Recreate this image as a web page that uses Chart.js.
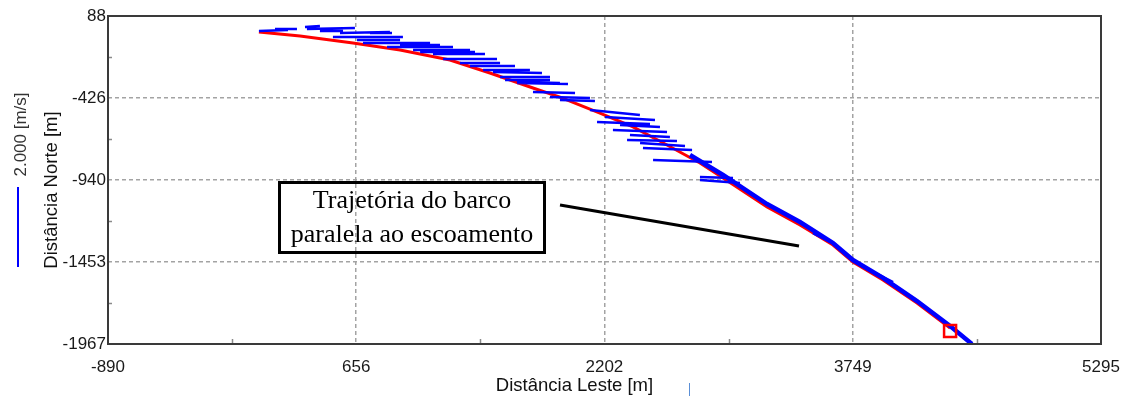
<!DOCTYPE html>
<html>
<head>
<meta charset="utf-8">
<script src="https://cdn.jsdelivr.net/npm/chart.js@4"></script>
<style>
  html, body { margin: 0; padding: 0; background: #ffffff; }
  #wrap { width: 1125px; height: 396px; position: relative; }
</style>
</head>
<body>
<div id="wrap"><canvas id="c" width="1125" height="396"></canvas></div>
<script>
// ---- axis ticks ----
const xTickValues = [-890, 656, 2202, 3749, 5295];
const yTickValues = [-1967, -1453, -940, -426, 88];

// ---- boat trajectory (red), metres ----
const trackX = [50, 306, 636, 929, 1240, 1489, 1757, 1925, 2174, 2380, 2592, 2797, 2941, 3215, 3420, 3626, 3750, 3937, 4149, 4355];
const trackY = [-12, -37, -81, -125, -188, -269, -363, -420, -520, -607, -720, -833, -927, -1109, -1221, -1347, -1453, -1566, -1710, -1867];

// ---- velocity vectors (blue), start and end in metres ----
const vecX0 = [50, 150, 337, 349, 430, 555, 742, 511, 661, 698, 848, 1010, 1134, 1197, 1302, 1446, 1508, 1552, 1657, 1657, 1757, 1863, 1925, 2156, 2255, 2343, 2442, 2505, 2797, 929, 1054, 1365, 1583, 2112, 2206, 2299, 2361, 2424, 3501, 3794, 2797];
const vecY0 = [-6, 7, 19, 7, -6, -19, -19, -44, -62, -81, -106, -125, -150, -181, -206, -250, -263, -294, -326, -332, -388, -420, -438, -576, -626, -689, -739, -814, -921, -94, -138, -225, -313, -501, -545, -595, -658, -708, -1272, -1472, -939];
const vecX1 = [231, 287, 430, 648, 574, 866, 879, 947, 929, 1116, 1259, 1365, 1458, 1533, 1552, 1738, 1813, 1863, 1925, 1975, 2019, 2112, 2143, 2486, 2592, 2654, 2748, 2872, 3003, 1178, 1396, 1645, 1863, 2423, 2517, 2548, 2610, 2704, 3607, 4000, 3046];
const vecY1 = [0, 7, 25, 13, -6, -13, -19, -44, -62, -81, -106, -125, -150, -181, -206, -250, -269, -294, -332, -338, -394, -426, -444, -588, -638, -695, -751, -826, -927, -94, -138, -225, -313, -532, -564, -607, -670, -726, -1328, -1579, -958];

// ---- vectors overlapping along the lower track (blue) ----
const alongX = [2735, 2941, 3215, 3420, 3626, 3750, 3937, 4149, 4355, 4491];
const alongY = [-783, -908, -1090, -1203, -1334, -1441, -1553, -1698, -1854, -1967];

// ---- marker (red square) ----
const markerX = [4355];
const markerY = [-1885];

// ---- texts ----
const xTitle = 'Distância Leste [m]';
const yTitle = 'Distância Norte [m]';
const scaleLabel = '2.000 [m/s]';
const noteLines = ['Trajetória do barco', 'paralela ao escoamento'];

// build datasets
const trackData = trackX.map((v, i) => ({x: v, y: trackY[i]}));
const vecData = [];
vecX0.forEach((v, i) => {
  vecData.push({x: v, y: vecY0[i]});
  vecData.push({x: vecX1[i], y: vecY1[i]});
  vecData.push({x: vecX1[i], y: null});
});
const alongData = alongX.map((v, i) => ({x: v, y: alongY[i]}));
const markerData = markerX.map((v, i) => ({x: v, y: markerY[i]}));

const SANS = "'Liberation Sans', Arial, sans-serif";
const SERIF = "'Liberation Serif', 'Times New Roman', serif";

const overlay = {
  id: 'overlay',
  afterDraw(chart) {
    const {ctx, chartArea: a, scales} = chart;
    const xs = scales.x, ys = scales.y;
    ctx.save();
    // minor ticks
    ctx.strokeStyle = '#8a8a8a';
    ctx.lineWidth = 1.5;
    for (let i = 0; i < xTickValues.length - 1; i++) {
      const px = Math.round(xs.getPixelForValue((xTickValues[i] + xTickValues[i + 1]) / 2)) + 0.5;
      ctx.beginPath(); ctx.moveTo(px, a.bottom); ctx.lineTo(px, a.bottom - 5); ctx.stroke();
    }
    for (let i = 0; i < yTickValues.length - 1; i++) {
      const py = Math.round(ys.getPixelForValue((yTickValues[i] + yTickValues[i + 1]) / 2)) + 0.5;
      ctx.beginPath(); ctx.moveTo(a.left, py); ctx.lineTo(a.left + 4, py); ctx.stroke();
    }
    // frame
    ctx.strokeStyle = '#3a3a3a';
    ctx.lineWidth = 2;
    ctx.strokeRect(a.left, a.top, a.right - a.left, a.bottom - a.top);

    // axis titles
    ctx.fillStyle = '#111';
    ctx.font = '18.5px ' + SANS;
    ctx.textAlign = 'center';
    ctx.textBaseline = 'alphabetic';
    ctx.fillText(xTitle, 574.5, 391);
    ctx.save();
    ctx.translate(57, 190);
    ctx.rotate(-Math.PI / 2);
    ctx.fillText(yTitle, 0, 0);
    ctx.restore();

    // vector scale legend
    ctx.save();
    ctx.font = '17px ' + SANS;
    ctx.fillStyle = '#333';
    ctx.translate(26, 134.5);
    ctx.rotate(-Math.PI / 2);
    ctx.fillText(scaleLabel, 0, 0);
    ctx.restore();
    ctx.strokeStyle = '#0000ff';
    ctx.lineWidth = 2;
    ctx.beginPath(); ctx.moveTo(18, 187); ctx.lineTo(18, 267); ctx.stroke();

    // small blue mark below axis
    ctx.strokeStyle = '#5b8fd6';
    ctx.lineWidth = 1;
    ctx.beginPath(); ctx.moveTo(689.5, 383); ctx.lineTo(689.5, 396); ctx.stroke();

    // annotation box
    ctx.strokeStyle = '#000';
    ctx.lineWidth = 3;
    ctx.strokeRect(279.5, 182.5, 265, 70);
    ctx.fillStyle = '#000';
    ctx.font = '26px ' + SERIF;
    ctx.textAlign = 'center';
    ctx.fillText(noteLines[0], 412, 208);
    ctx.fillText(noteLines[1], 412, 242);
    // pointer line
    ctx.lineWidth = 3;
    ctx.beginPath(); ctx.moveTo(560, 205); ctx.lineTo(799, 246); ctx.stroke();
    ctx.restore();
  }
};

const gridColor = (c) => (c.tick && (c.tick.value === c.scale.min || c.tick.value === c.scale.max)) ? 'rgba(0,0,0,0)' : '#a3a3a3';
const noPad = (s) => { s.paddingLeft = 0; s.paddingRight = 0; s.paddingTop = 0; s.paddingBottom = 0; };

new Chart(document.getElementById('c'), {
  type: 'line',
  data: {
    datasets: [
      { label: 'marker', data: markerData, showLine: false, pointStyle: 'rect', pointRadius: 8.5,
        pointBorderColor: '#ff0000', pointBackgroundColor: 'rgba(0,0,0,0)', pointBorderWidth: 2.5, order: 0 },
      { label: 'vetores', data: vecData, borderColor: '#0000ff', borderWidth: 2.5, pointRadius: 0,
        spanGaps: false, tension: 0, order: 1 },
      { label: 'vetores ao longo', data: alongData, borderColor: '#0000ff', borderWidth: 4.5, pointRadius: 0,
        tension: 0, order: 2 },
      { label: 'trajetória', data: trackData, borderColor: '#ff0000', borderWidth: 3, pointRadius: 0,
        tension: 0, order: 3 }
    ]
  },
  options: {
    responsive: false,
    animation: false,
    layout: { padding: { left: 0, top: 16, right: 24, bottom: 0 } },
    plugins: { legend: { display: false }, tooltip: { enabled: false }, title: { display: false } },
    scales: {
      x: {
        type: 'linear', min: -890, max: 5295,
        afterBuildTicks: (s) => { s.ticks = xTickValues.map(v => ({value: v})); },
        afterFit: (s) => { s.height = 52; noPad(s); },
        ticks: { autoSkip: false, maxRotation: 0, padding: 13, color: '#1a1a1a',
          font: { family: SANS, size: 17 }, callback: (v) => String(v) },
        grid: { color: gridColor, lineWidth: 1.5, drawTicks: false },
        border: { display: false, dash: [4, 3] }
      },
      y: {
        type: 'linear', min: -1967, max: 88,
        afterBuildTicks: (s) => { s.ticks = yTickValues.map(v => ({value: v})); },
        afterFit: (s) => { s.width = 108; noPad(s); },
        ticks: { autoSkip: false, padding: 2, color: '#1a1a1a',
          font: { family: SANS, size: 17 }, callback: (v) => String(v) },
        grid: { color: gridColor, lineWidth: 1.5, drawTicks: false },
        border: { display: false, dash: [4, 3] }
      }
    }
  },
  plugins: [overlay]
});
</script>
</body>
</html>
